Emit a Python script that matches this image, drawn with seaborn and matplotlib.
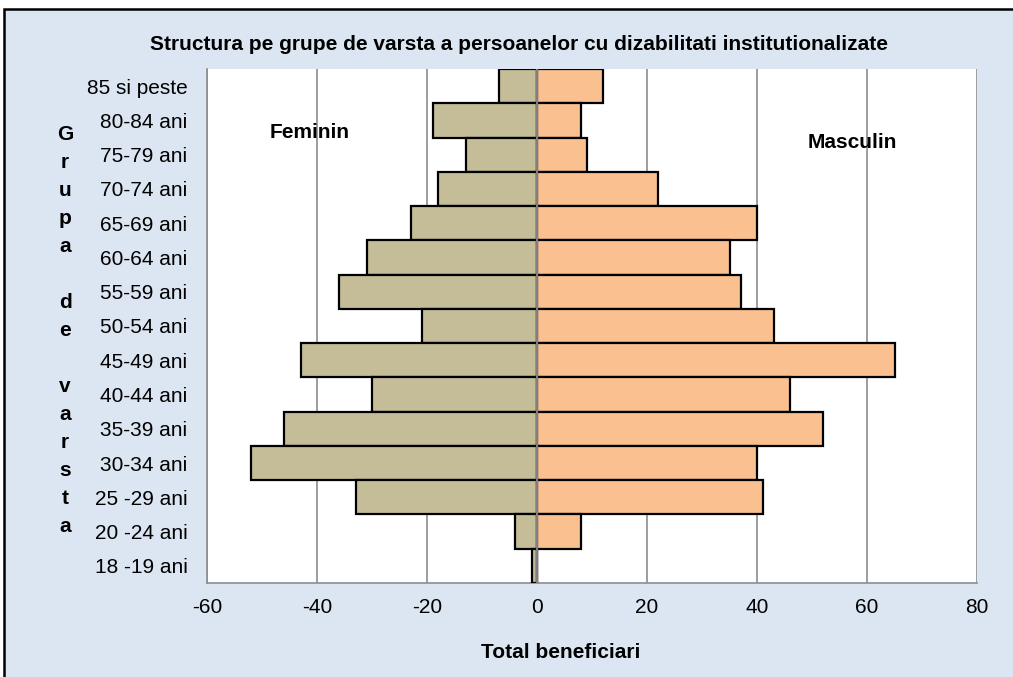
import matplotlib
matplotlib.use("Agg")
import matplotlib.pyplot as plt
from matplotlib.patches import Rectangle
import pandas as pd
import seaborn as sns

# Age groups, top to bottom
age_groups = ["85 si peste", "80-84 ani", "75-79 ani", "70-74 ani", "65-69 ani",
              "60-64 ani", "55-59 ani", "50-54 ani", "45-49 ani", "40-44 ani",
              "35-39 ani", "30-34 ani", "25 -29 ani", "20 -24 ani", "18 -19 ani"]
# Women are plotted as negative counts (left side of the pyramid)
feminin = [-7, -19, -13, -18, -23, -31, -36, -21, -43, -30, -46, -52, -33, -4, -1]
masculin = [12, 8, 9, 22, 40, 35, 37, 43, 65, 46, 52, 40, 41, 8, 0]
x_ticks = [-60, -40, -20, 0, 20, 40, 60, 80]

df = pd.DataFrame({"grupa": age_groups, "Feminin": feminin, "Masculin": masculin})

sns.set_theme(style="white")
plt.rcParams["font.family"] = ["Liberation Sans", "DejaVu Sans"]
plt.rcParams["axes.unicode_minus"] = False
plt.rcParams["text.color"] = "black"

W, H = 1013, 677
fig = plt.figure(figsize=(W / 100, H / 100), dpi=100)
fig.patch.set_facecolor("white")

# Chart area panel with black border
fig.patches.append(Rectangle((4 / W, -0.02), 1.1, (H - 9) / H + 0.02,
                             transform=fig.transFigure, facecolor="#DCE6F2",
                             edgecolor="black", linewidth=1.8, zorder=-5))

ax = fig.add_axes([207 / W, 1 - 583 / H, (977 - 207) / W, (583 - 69) / H])
ax.set_zorder(2)
ax.set_facecolor("white")

sns.barplot(data=df, x="Feminin", y="grupa", order=age_groups, orient="h",
            color="#C4BD97", saturation=1, width=1.0, edgecolor="black",
            linewidth=1.6, ax=ax, zorder=3)
sns.barplot(data=df, x="Masculin", y="grupa", order=age_groups, orient="h",
            color="#FAC090", saturation=1, width=1.0, edgecolor="black",
            linewidth=1.6, ax=ax, zorder=3)

ax.set_xlim(-60, 80)
ax.set_ylim(len(age_groups) - 0.5, -0.5)
ax.set_xticks(x_ticks)
ax.set_xticklabels([str(v) for v in x_ticks])
ax.xaxis.grid(True, color="#8C8C8C", linewidth=1.2, zorder=0)
ax.set_axisbelow(True)
ax.axvline(0, color="#7F7F7F", linewidth=1.6, zorder=5)

for side in ["top", "right"]:
    ax.spines[side].set_visible(False)
for side in ["left", "bottom"]:
    ax.spines[side].set_color("#8C8C8C")
    ax.spines[side].set_linewidth(1.2)

ax.tick_params(axis="x", length=0, pad=11, labelsize=15, labelcolor="black")
ax.tick_params(axis="y", length=0, pad=14, labelsize=15, labelcolor="black")
ax.set_xlabel("")
ax.set_ylabel("")

fig.text(519 / W, 1 - 45 / H,
         "Structura pe grupe de varsta a persoanelor cu dizabilitati institutionalizate",
         ha="center", va="center", fontsize=15, fontweight="bold", color="black")
fig.text(561 / W, 1 - 653 / H, "Total beneficiari", ha="center", va="center",
         fontsize=15, fontweight="bold", color="black")
fig.text(65 / W, 1 - 330 / H, "G\nr\nu\np\na\n\nd\ne\n\nv\na\nr\ns\nt\na",
         ha="center", va="center", fontsize=15, fontweight="bold", linespacing=1.6,
         color="black")

ax.text(310 / W, 1 - 133 / H, "Feminin", transform=fig.transFigure,
        ha="center", va="center", fontsize=15, fontweight="bold", color="black",
        zorder=6)
ax.text(852 / W, 1 - 142 / H, "Masculin", transform=fig.transFigure,
        ha="center", va="center", fontsize=15, fontweight="bold", color="black",
        zorder=6)

fig.savefig("out.png", dpi=100)
